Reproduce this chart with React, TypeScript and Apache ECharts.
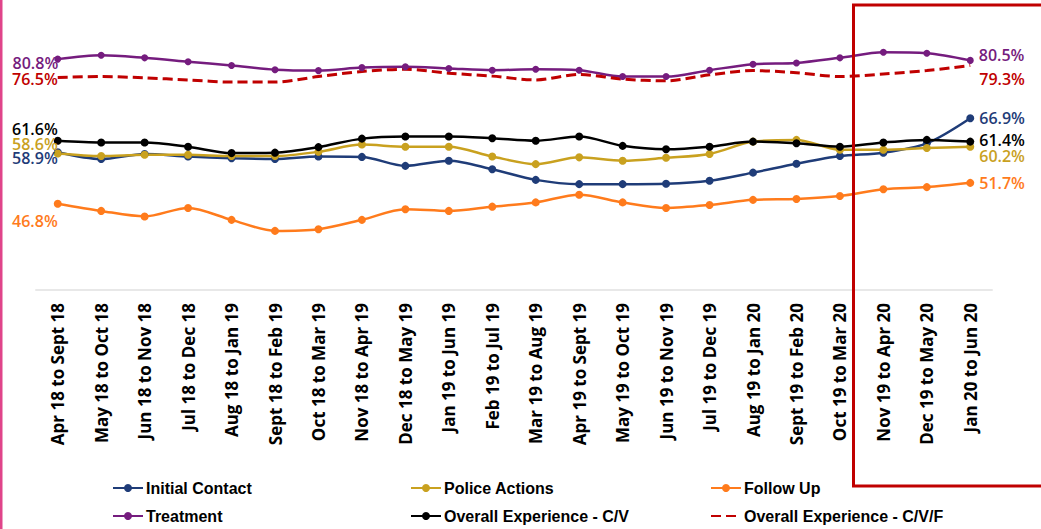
import React, { useEffect, useRef } from "react";
import * as echarts from "echarts";

const categories = [
  "Apr 18 to Sept 18", "May 18 to Oct 18", "Jun 18 to Nov 18", "Jul 18 to Dec 18",
  "Aug 18 to Jan 19", "Sept 18 to Feb 19", "Oct 18 to Mar 19", "Nov 18 to Apr 19",
  "Dec 18 to May 19", "Jan 19 to Jun 19", "Feb 19 to Jul 19", "Mar 19 to Aug 19",
  "Apr 19 to Sept 19", "May 19 to Oct 19", "Jun 19 to Nov 19", "Jul 19 to Dec 19",
  "Aug 19 to Jan 20", "Sept 19 to Feb 20", "Oct 19 to Mar 20", "Nov 19 to Apr 20",
  "Dec 19 to May 20", "Jan 20 to Jun 20",
];

const initialContact = [58.9, 57.3, 58.5, 57.9, 57.5, 57.3, 57.9, 57.8, 55.7, 56.9, 54.9, 52.4, 51.4, 51.4, 51.5, 52.2, 54.1, 56.2, 58.0, 58.8, 61.0, 66.9];
const policeActions = [58.6, 58.0, 58.3, 58.3, 58.0, 58.0, 59.0, 60.7, 60.2, 60.2, 57.9, 56.1, 57.7, 56.9, 57.6, 58.5, 61.4, 61.8, 59.5, 59.5, 59.9, 60.2];
const followUp = [46.8, 45.1, 43.8, 45.8, 43.0, 40.4, 40.8, 43.0, 45.5, 45.1, 46.1, 47.1, 48.9, 47.1, 45.8, 46.5, 47.7, 47.9, 48.6, 50.2, 50.7, 51.7];
const treatment = [80.8, 81.7, 81.1, 80.2, 79.3, 78.3, 78.1, 78.8, 79.0, 78.6, 78.2, 78.4, 78.2, 76.7, 76.7, 78.2, 79.6, 79.9, 81.1, 82.4, 82.2, 80.5];
const overallCV = [61.6, 61.2, 61.2, 60.2, 58.7, 58.8, 60.1, 62.1, 62.6, 62.6, 62.2, 61.6, 62.6, 60.4, 59.6, 60.2, 61.4, 61.0, 60.2, 61.2, 61.8, 61.4];
const overallCVF = [76.5, 76.7, 76.4, 75.9, 75.4, 75.4, 76.7, 77.9, 78.4, 77.5, 76.8, 75.9, 77.2, 76.1, 75.7, 77.1, 78.1, 77.6, 76.7, 77.3, 78.1, 79.3];

const seriesNames = [
  "Initial Contact", "Police Actions", "Follow Up",
  "Treatment", "Overall Experience - C/V", "Overall Experience - C/V/F",
];

const LABEL_FONT = "'Open Sans', 'Noto Sans', sans-serif";

function withEndLabels(values: number[], color: string, leftOff: number[], rightOff: number[]) {
  const last = values.length - 1;
  const lab = (pos: string, off: number[]) => ({
    show: true,
    position: pos,
    distance: 5,
    offset: off,
    color,
    fontSize: 16,
    fontWeight: 600,
    fontFamily: LABEL_FONT,
    formatter: (p: any) => Number(p.value).toFixed(1) + "%",
  });
  return values.map((v, i) => {
    if (i === 0) return { value: v, label: lab("left", leftOff) };
    if (i === last) return { value: v, label: lab("right", rightOff) };
    return v;
  });
}

export default function App() {
  const ref = useRef<HTMLDivElement>(null);
  useEffect(() => {
    document.body.style.margin = "0";
    const chart = echarts.init(ref.current!, null, { renderer: "svg" });
    const colors = ["#1f3c78", "#c9a11f", "#ff7b1c", "#751c7e", "#000000", "#c00000"];
    const mk = (idx: number, values: number[], lo: number[], ro: number[], extra: any = {}) => ({
      name: seriesNames[idx],
      type: "line",
      smooth: 0.3,
      symbol: "circle",
      symbolSize: 8,
      showSymbol: true,
      color: colors[idx],
      lineStyle: { width: 2.5, color: colors[idx] },
      itemStyle: { color: colors[idx] },
      data: withEndLabels(values, colors[idx], lo, ro),
      ...extra,
    });
    const legendPos = [
      [112, 480], [410, 480], [710, 480],
      [112, 508], [410, 508], [710, 508],
    ];
    chart.setOption({
      animation: false,
      grid: { left: 36, right: 49, top: 20, bottom: 239 },
      xAxis: {
        type: "category",
        data: categories,
        boundaryGap: true,
        axisLine: { show: true, lineStyle: { color: "#e8e8e8", width: 2 } },
        axisTick: { show: false },
        axisLabel: {
          rotate: 90,
          margin: 13,
          interval: 0,
          color: "#000",
          fontSize: 17,
          fontWeight: "bold",
          fontFamily: LABEL_FONT,
        },
      },
      yAxis: {
        type: "value",
        min: 26.5,
        max: 90,
        show: false,
        splitLine: { show: false },
      },
      legend: legendPos.map((p, i) => ({
        data: i === 5
          ? [{ name: seriesNames[i], itemStyle: { opacity: 0 } }]
          : [seriesNames[i]],
        left: p[0],
        top: p[1],
        padding: 0,
        itemWidth: 30,
        itemHeight: 10,
        itemGap: 4,
        textStyle: {
          color: "#000",
          fontSize: 16,
          fontWeight: "bold",
          fontFamily: "'Liberation Sans Narrow', 'Liberation Sans', sans-serif",
          padding: [0, 0, 0, -2],
        },
      })),
      series: [
        mk(0, initialContact, [9, 6], [0, 0]),
        mk(1, policeActions, [9, -10], [0, 9]),
        mk(2, followUp, [9, 17], [0, 0]),
        mk(3, treatment, [9, 4], [0, -5], { symbolSize: 7 }),
        mk(4, overallCV, [9, -12], [0, -2]),
        mk(5, overallCVF, [5, 2], [4, 14], {
          symbolSize: 0,
          lineStyle: { width: 3, color: colors[5], type: [10, 5] },
        }),
      ],
      graphic: [
        {
          type: "rect",
          shape: { x: 0, y: 0, width: 2.5, height: 529 },
          style: { fill: "#e0448a" },
          z: 100,
        },
        {
          type: "rect",
          shape: { x: 853.5, y: 5, width: 220, height: 481 },
          style: { fill: "none", stroke: "#c00000", lineWidth: 3 },
          z: 100,
        },
      ],
    });
    return () => chart.dispose();
  }, []);
  return <div ref={ref} style={{ width: 1041, height: 529 }} />;
}
